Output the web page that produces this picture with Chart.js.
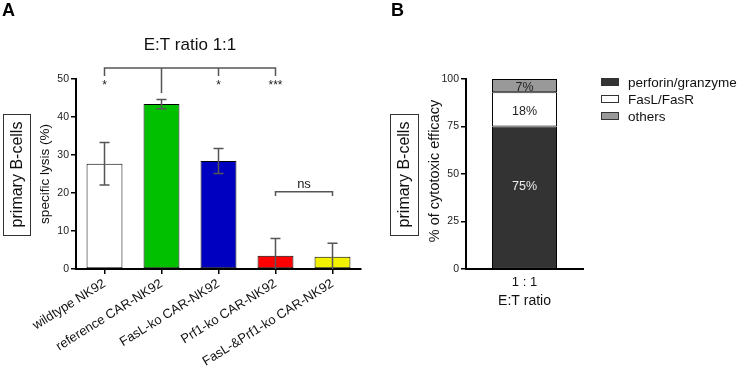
<!DOCTYPE html>
<html>
<head>
<meta charset="utf-8">
<script src="https://cdn.jsdelivr.net/npm/chart.js@4/dist/chart.umd.min.js"></script>
<style>
  body { margin: 0; background: #fff; }
  #wrap { position: relative; width: 739px; height: 367px; }
  canvas { position: absolute; top: 0; }
</style>
</head>
<body>
<div id="wrap">
  <canvas id="chartA" width="370" height="367" style="left:0"></canvas>
  <canvas id="chartB" width="369" height="367" style="left:370px"></canvas>
</div>
<script>
// panel A data
const categories = ['wildtype NK92', 'reference CAR-NK92', 'FasL-ko CAR-NK92', 'Prf1-ko CAR-NK92', 'FasL-&Prf1-ko CAR-NK92'];
const lysisMean = [27.7, 43.4, 28.4, 3.5, 3.2];
const lysisErr = [5.6, 1.2, 3.3, 4.5, 3.6];
const barColors = ['#ffffff', '#00c000', '#0000c0', '#ff0000', '#f2f200'];
const sigStars = ['*', '', '*', '***', ''];

// panel B data
const ratioLabels = ['1 : 1'];
const mechanisms = ['perforin/granzyme', 'FasL/FasR', 'others'];
const mechShare = [75, 18, 7];
const mechColors = ['#333333', '#ffffff', '#999999'];
const shareText = ['75%', '18%', '7%'];

const FONT = "'Liberation Sans', Arial, sans-serif";

function boxLabel(ctx, cx, cy, w, h, text) {
  ctx.save();
  ctx.strokeStyle = '#333';
  ctx.lineWidth = 1;
  ctx.strokeRect(cx - w / 2 + 0.5, cy - h / 2 + 0.5, w, h);
  ctx.translate(cx, cy);
  ctx.rotate(-Math.PI / 2);
  ctx.fillStyle = '#111';
  ctx.font = '16px ' + FONT;
  ctx.textAlign = 'center';
  ctx.textBaseline = 'middle';
  ctx.fillText(text, 0, 1);
  ctx.restore();
}

function vText(ctx, cx, cy, text, size) {
  ctx.save();
  ctx.translate(cx, cy);
  ctx.rotate(-Math.PI / 2);
  ctx.fillStyle = '#111';
  ctx.font = size + 'px ' + FONT;
  ctx.textAlign = 'center';
  ctx.textBaseline = 'middle';
  ctx.fillText(text, 0, 0);
  ctx.restore();
}

const decoA = {
  id: 'decoA',
  afterDatasetsDraw(chart) {
    const ctx = chart.ctx, x = chart.scales.x, y = chart.scales.y;
    const meta = chart.getDatasetMeta(0);
    ctx.save();
    ctx.strokeStyle = '#555';
    ctx.lineWidth = 1.5;
    lysisMean.forEach((m, i) => {
      const bx = meta.data[i].x;
      const hi = y.getPixelForValue(m + lysisErr[i]);
      const loV = m - lysisErr[i];
      const lo = y.getPixelForValue(Math.max(0, loV));
      ctx.beginPath();
      ctx.moveTo(bx, hi); ctx.lineTo(bx, lo);
      ctx.moveTo(bx - 5, hi); ctx.lineTo(bx + 5, hi);
      if (loV > 0) { ctx.moveTo(bx - 5, lo); ctx.lineTo(bx + 5, lo); }
      ctx.stroke();
    });
    ctx.restore();
  },
  afterDraw(chart) {
    const ctx = chart.ctx, x = chart.scales.x, y = chart.scales.y;
    ctx.save();
    // panel letter
    ctx.fillStyle = '#000';
    ctx.font = 'bold 18px ' + FONT;
    ctx.textBaseline = 'middle';
    ctx.fillText('A', 2, 11);
    // title
    ctx.font = '17px ' + FONT;
    ctx.textAlign = 'center';
    ctx.fillStyle = '#111';
    ctx.fillText('E:T ratio 1:1', (x.getPixelForValue(0) + x.getPixelForValue(3)) / 2, 45);
    // top bracket
    ctx.strokeStyle = '#555';
    ctx.lineWidth = 1.5;
    const yb = y.getPixelForValue(52.9), yt = y.getPixelForValue(50.8);
    ctx.beginPath();
    ctx.moveTo(x.getPixelForValue(0), yt); ctx.lineTo(x.getPixelForValue(0), yb);
    ctx.lineTo(x.getPixelForValue(3), yb); ctx.lineTo(x.getPixelForValue(3), yt);
    ctx.moveTo(x.getPixelForValue(2), yb); ctx.lineTo(x.getPixelForValue(2), yt);
    ctx.moveTo(x.getPixelForValue(1), yb); ctx.lineTo(x.getPixelForValue(1), y.getPixelForValue(46.3));
    // ns bracket
    const nb = y.getPixelForValue(20.3), nt = y.getPixelForValue(19.2);
    ctx.moveTo(x.getPixelForValue(3), nt); ctx.lineTo(x.getPixelForValue(3), nb);
    ctx.lineTo(x.getPixelForValue(4), nb); ctx.lineTo(x.getPixelForValue(4), nt);
    ctx.stroke();
    ctx.fillStyle = '#222';
    ctx.font = '12px ' + FONT;
    sigStars.forEach((s, i) => {
      if (s) ctx.fillText(s, x.getPixelForValue(i), y.getPixelForValue(48.3));
    });
    ctx.font = '13px ' + FONT;
    ctx.fillText('ns', (x.getPixelForValue(3) + x.getPixelForValue(4)) / 2, y.getPixelForValue(22.3));
    ctx.restore();
    boxLabel(ctx, 16.5, 174.5, 27, 121, 'primary B-cells');
    vText(ctx, 45, 174, 'specific lysis (%)', 13.5);
  }
};

new Chart(document.getElementById('chartA').getContext('2d'), {
  type: 'bar',
  data: {
    labels: categories,
    datasets: [{
      data: lysisMean,
      backgroundColor: barColors,
      borderColor: '#000',
      borderWidth: 1,
      borderSkipped: false,
      barPercentage: 0.63,
      categoryPercentage: 1
    }]
  },
  options: {
    responsive: false,
    animation: false,
    layout: { padding: { top: 79, right: 9, left: 0, bottom: 0 } },
    plugins: { legend: { display: false }, tooltip: { enabled: false } },
    scales: {
      x: {
        afterFit(s) { s.height = 98; },
        grid: { offset: false, drawOnChartArea: false, tickLength: 5, color: '#000', lineWidth: 1.5 },
        border: { color: '#000', width: 2 },
        ticks: { minRotation: 32, maxRotation: 32, padding: 2, color: '#111', font: { size: 13, family: FONT } }
      },
      y: {
        min: 0, max: 50,
        afterFit(s) { s.width = 76; },
        grid: { drawOnChartArea: false, tickLength: 5, color: '#000', lineWidth: 1.5 },
        border: { color: '#000', width: 2 },
        ticks: { stepSize: 10, padding: 2, color: '#222', font: { size: 10.5, family: FONT } }
      }
    }
  },
  plugins: [decoA]
});

const decoB = {
  id: 'decoB',
  afterDatasetsDraw(chart) {
    const ctx = chart.ctx, y = chart.scales.y;
    ctx.save();
    ctx.font = '12.5px ' + FONT;
    ctx.textAlign = 'center';
    ctx.textBaseline = 'middle';
    let base = 0;
    mechShare.forEach((v, i) => {
      const bx = chart.getDatasetMeta(i).data[0].x;
      const at = i === 0 ? base + v * 0.59 : base + v / 2;
      ctx.fillStyle = i === 0 ? '#eee' : '#222';
      ctx.fillText(shareText[i], bx, y.getPixelForValue(at) + 2);
      base += v;
    });
    ctx.restore();
  },
  afterDraw(chart) {
    const ctx = chart.ctx, x = chart.scales.x;
    ctx.save();
    ctx.fillStyle = '#000';
    ctx.font = 'bold 18px ' + FONT;
    ctx.textBaseline = 'middle';
    ctx.fillText('B', 21, 11);
    // x title
    ctx.fillStyle = '#111';
    ctx.font = '14px ' + FONT;
    ctx.textAlign = 'center';
    ctx.fillText('E:T ratio', x.getPixelForValue(0), 301);
    // legend
    ctx.textAlign = 'left';
    ctx.font = '13.5px ' + FONT;
    mechanisms.forEach((m, i) => {
      const ly = 82 + i * 17;
      ctx.fillStyle = mechColors[i];
      ctx.fillRect(231, ly - 4, 18, 8);
      ctx.strokeStyle = '#333';
      ctx.lineWidth = 1;
      ctx.strokeRect(231.5, ly - 3.5, 17, 7);
      ctx.fillStyle = '#111';
      ctx.fillText(m, 258, ly + 1);
    });
    ctx.restore();
    boxLabel(ctx, 34, 174.5, 28, 121, 'primary B-cells');
    vText(ctx, 65, 171, '% of cytotoxic efficacy', 14.5);
  }
};

new Chart(document.getElementById('chartB').getContext('2d'), {
  type: 'bar',
  data: {
    labels: ratioLabels,
    datasets: mechanisms.map((m, i) => ({
      label: m,
      data: [mechShare[i]],
      backgroundColor: mechColors[i],
      borderColor: '#000',
      borderWidth: 1,
      borderSkipped: false,
      barPercentage: 0.556,
      categoryPercentage: 1
    }))
  },
  options: {
    responsive: false,
    animation: false,
    layout: { padding: { top: 79, right: 156, left: 0, bottom: 0 } },
    plugins: { legend: { display: false }, tooltip: { enabled: false } },
    scales: {
      x: {
        stacked: true,
        afterFit(s) { s.height = 98; },
        grid: { display: false, drawTicks: false },
        border: { color: '#000', width: 2 },
        ticks: { padding: 6, color: '#111', font: { size: 13, family: FONT } }
      },
      y: {
        stacked: true,
        min: 0, max: 100,
        afterFit(s) { s.width = 96; },
        grid: { drawOnChartArea: false, tickLength: 5, color: '#000', lineWidth: 1.5 },
        border: { color: '#000', width: 2 },
        ticks: { stepSize: 25, padding: 2, color: '#222', font: { size: 10.5, family: FONT } }
      }
    }
  },
  plugins: [decoB]
});
</script>
</body>
</html>
